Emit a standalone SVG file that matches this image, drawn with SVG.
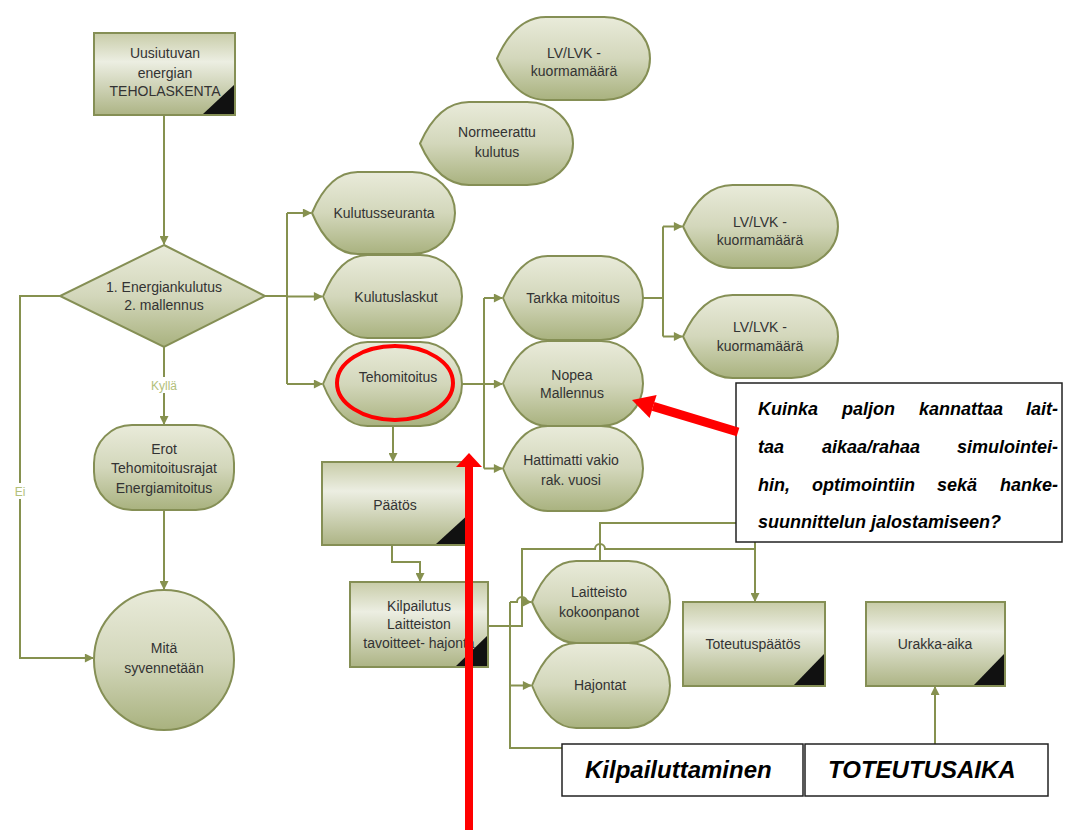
<svg xmlns="http://www.w3.org/2000/svg" width="1066" height="830" viewBox="0 0 1066 830">
<style>
.shape{fill:url(#gShape);stroke:#858f55;stroke-width:2}
.box{fill:url(#gBox);stroke:#858f55;stroke-width:2}
.tri{fill:#111}
.t{font-family:"Liberation Sans",Arial,sans-serif;font-size:14px;fill:#333;text-anchor:middle}
.lbl{font-family:"Liberation Sans",Arial,sans-serif;font-size:12px;fill:#b3c07a;text-anchor:middle}
.c{fill:none;stroke:#86914f;stroke-width:2}
.ca{fill:none;stroke:#86914f;stroke-width:2;marker-end:url(#ah)}
.q{font-family:"Liberation Sans",Arial,sans-serif;font-size:18px;font-weight:bold;font-style:italic;fill:#000}
.big{font-family:"Liberation Sans",Arial,sans-serif;font-size:24px;font-weight:bold;font-style:italic;fill:#000}
.frame{fill:#fff;stroke:#222;stroke-width:1.5}
.red{fill:#ff0000}
</style>
<defs>
<linearGradient id="gShape" x1="0" y1="0" x2="0" y2="1">
<stop offset="0" stop-color="#e9ebda"/>
<stop offset="0.5" stop-color="#d3d7bb"/>
<stop offset="1" stop-color="#a9b27f"/>
</linearGradient>
<linearGradient id="gBox" x1="0" y1="0" x2="0" y2="1">
<stop offset="0" stop-color="#c8cca8"/>
<stop offset="0.35" stop-color="#eceee2"/>
<stop offset="1" stop-color="#adb485"/>
</linearGradient>
<marker id="ah" viewBox="0 0 10 10" refX="9" refY="5" markerWidth="10" markerHeight="9" markerUnits="userSpaceOnUse" orient="auto">
<path d="M0,0 L10,5 L0,10 Z" fill="#86914f"/>
</marker>
</defs>
<rect width="1066" height="830" fill="#fff"/>

<g id="connectors">
<path class="ca" d="M164,115 V244"/>
<path class="ca" d="M164,347 V424"/>
<path class="ca" d="M164,510 V589"/>
<path class="ca" d="M60,296 H20 V658 H93"/>
<path class="c" d="M265,296 H287"/>
<path class="c" d="M287,213 V384"/>
<path class="ca" d="M287,213 H311"/>
<path class="ca" d="M287,296.5 H322"/>
<path class="ca" d="M287,384 H322"/>
<path class="ca" d="M462,384 H502"/>
<path class="c" d="M484,298 V468.5"/>
<path class="ca" d="M484,298 H502"/>
<path class="ca" d="M484,468.5 H502"/>
<path class="c" d="M643,298 H663"/>
<path class="c" d="M663,226.5 V336.5"/>
<path class="ca" d="M663,226.5 H682"/>
<path class="ca" d="M663,336.5 H682"/>
<path class="ca" d="M393,426 V461"/>
<path class="ca" d="M392,545 V562 H420 V581"/>
<path class="c" d="M488,626 H522 V549 H595 A5,5 0 0 1 605,549 H755"/>
<path class="c" d="M755,540 V549"/>
<path class="ca" d="M755,549 V601"/>
<path class="c" d="M562,748 H510 V602"/>
<path class="ca" d="M510,602 H517 A5,5 0 0 1 527,602 H531"/>
<path class="ca" d="M510,685.5 H531"/>
<path class="c" d="M600,561 V523 H740"/>
<path class="ca" d="M935,744 V687"/>
</g>

<g id="n-teholaskenta">
<rect class="box" x="94" y="33" width="141" height="82"/>
<polygon class="tri" points="203,114 234,114 234,85"/>
<text class="t" x="165" y="58">Uusiutuvan</text>
<text class="t" x="165" y="78">energian</text>
<text class="t" x="165" y="96">TEHOLASKENTA</text>
</g>

<g id="n-paatos-diamond">
<polygon class="shape" points="164,245 265,296 164,347 60,296"/>
<text class="t" x="164" y="292">1. Energiankulutus</text>
<text class="t" x="164" y="310">2. mallennus</text>
</g>

<g id="l-kylla">
<rect x="146" y="377" width="36" height="16" fill="#fff"/>
<text class="lbl" x="164" y="390">Kyllä</text>
</g>
<g id="l-ei">
<rect x="12" y="483" width="16" height="16" fill="#fff"/>
<text class="lbl" x="20" y="496">Ei</text>
</g>

<g id="n-erot">
<rect class="shape" x="94" y="425" width="140" height="85" rx="38" ry="38"/>
<text class="t" x="164" y="454">Erot</text>
<text class="t" x="164" y="473">Tehomitoitusrajat</text>
<text class="t" x="164" y="493">Energiamitoitus</text>
</g>

<g id="n-mita">
<circle class="shape" cx="164" cy="660" r="70"/>
<text class="t" x="164" y="653">Mitä</text>
<text class="t" x="164" y="673">syvennetään</text>
</g>

<g id="n-lv1">
<path class="shape" d="M497,58.5 Q515.4,17 546,17 L604.1,17 A45.9,41.5 0 0 1 604.1,100 L546,100 Q515.4,100 497,58.5 Z"/>
<text class="t" x="574" y="58">LV/LVK -</text>
<text class="t" x="574" y="76">kuormamäärä</text>
</g>

<g id="n-normeerattu">
<path class="shape" d="M420,143.5 Q438.4,102 469,102 L527.1,102 A45.9,41.5 0 0 1 527.1,185 L469,185 Q438.4,185 420,143.5 Z"/>
<text class="t" x="497" y="137">Normeerattu</text>
<text class="t" x="497" y="157">kulutus</text>
</g>

<g id="n-kulutusseuranta">
<path class="shape" d="M312,213 Q329.2,172 357.8,172 L412.1,172 A42.9,41 0 0 1 412.1,254 L357.8,254 Q329.2,254 312,213 Z"/>
<text class="t" x="384" y="218">Kulutusseuranta</text>
</g>

<g id="n-kulutuslaskut">
<path class="shape" d="M323,296.5 Q339.7,255 367.5,255 L420.3,255 A41.7,41.5 0 0 1 420.3,338 L367.5,338 Q339.7,338 323,296.5 Z"/>
<text class="t" x="396" y="302">Kulutuslaskut</text>
</g>

<g id="n-tehomitoitus">
<path class="shape" d="M323,384 Q339.7,342 367.5,342 L420.3,342 A41.7,42 0 0 1 420.3,426 L367.5,426 Q339.7,426 323,384 Z"/>
<text class="t" x="398" y="382">Tehomitoitus</text>
</g>

<g id="n-tarkka">
<path class="shape" d="M503,298 Q519.8,256 547.8,256 L601,256 A42,42 0 0 1 601,340 L547.8,340 Q519.8,340 503,298 Z"/>
<text class="t" x="573" y="303">Tarkka mitoitus</text>
</g>

<g id="n-nopea">
<path class="shape" d="M503,383.5 Q519.8,341 547.8,341 L601,341 A42,42.5 0 0 1 601,426 L547.8,426 Q519.8,426 503,383.5 Z"/>
<text class="t" x="572" y="380">Nopea</text>
<text class="t" x="572" y="398">Mallennus</text>
</g>

<g id="n-hattimatti">
<path class="shape" d="M503,468.5 Q519.8,426 547.8,426 L601,426 A42,42.5 0 0 1 601,511 L547.8,511 Q519.8,511 503,468.5 Z"/>
<text class="t" x="571" y="465">Hattimatti vakio</text>
<text class="t" x="571" y="485">rak. vuosi</text>
</g>

<g id="n-lv2">
<path class="shape" d="M683,226.5 Q701.6,185 732.6,185 L791.5,185 A46.5,41.5 0 0 1 791.5,268 L732.6,268 Q701.6,268 683,226.5 Z"/>
<text class="t" x="760" y="227">LV/LVK -</text>
<text class="t" x="760" y="245">kuormamäärä</text>
</g>

<g id="n-lv3">
<path class="shape" d="M683,336.5 Q701.6,295 732.6,295 L791.5,295 A46.5,41.5 0 0 1 791.5,378 L732.6,378 Q701.6,378 683,336.5 Z"/>
<text class="t" x="760" y="332">LV/LVK -</text>
<text class="t" x="760" y="351">kuormamäärä</text>
</g>

<g id="n-paatos">
<rect class="box" x="322" y="462" width="150" height="83"/>
<polygon class="tri" points="436,544 471,544 471,512"/>
<text class="t" x="395" y="510">Päätös</text>
</g>

<g id="n-kilpailutus">
<rect class="box" x="350" y="582" width="138" height="85"/>
<polygon class="tri" points="456,666 487,666 487,636"/>
<text class="t" x="419" y="611">Kilpailutus</text>
<text class="t" x="419" y="629">Laitteiston</text>
<text class="t" x="419" y="648">tavoitteet- hajonta</text>
</g>

<g id="n-laitteisto">
<path class="shape" d="M532,602 Q548.6,561 576.2,561 L628.6,561 A41.4,41 0 0 1 628.6,643 L576.2,643 Q548.6,643 532,602 Z"/>
<text class="t" x="599" y="597">Laitteisto</text>
<text class="t" x="599" y="617">kokoonpanot</text>
</g>

<g id="n-hajontat">
<path class="shape" d="M532,685.5 Q548.6,643 576.2,643 L628.6,643 A41.4,42.5 0 0 1 628.6,728 L576.2,728 Q548.6,728 532,685.5 Z"/>
<text class="t" x="600" y="690">Hajontat</text>
</g>

<g id="n-toteutuspaatos">
<rect class="box" x="683" y="602" width="142" height="84"/>
<polygon class="tri" points="794,685 824,685 824,654"/>
<text class="t" x="753" y="649">Toteutuspäätös</text>
</g>

<g id="n-urakka">
<rect class="box" x="866" y="602" width="139" height="84"/>
<polygon class="tri" points="974,685 1004,685 1004,654"/>
<text class="t" x="935" y="649">Urakka-aika</text>
</g>

<g id="n-callout">
<rect class="frame" x="736" y="383" width="326" height="159"/>
<text class="q" y="415"><tspan x="758">Kuinka</tspan><tspan x="842">paljon</tspan><tspan x="919">kannattaa</tspan></text>
<text class="q" x="1058" y="415" text-anchor="end">lait-</text>
<text class="q" y="453"><tspan x="758">taa</tspan><tspan x="822">aikaa/rahaa</tspan></text>
<text class="q" x="1058" y="453" text-anchor="end">simulointei-</text>
<text class="q" y="491"><tspan x="758">hin,</tspan><tspan x="812">optimointiin</tspan><tspan x="937">sekä</tspan></text>
<text class="q" x="1058" y="491" text-anchor="end">hanke-</text>
<text class="q" x="758" y="528">suunnittelun jalostamiseen?</text>
</g>

<g id="n-kilpailuttaminen">
<rect class="frame" x="562" y="744" width="241" height="52"/>
<text class="big" x="585" y="778">Kilpailuttaminen</text>
</g>

<g id="n-toteutusaika">
<rect class="frame" x="805" y="744" width="243" height="52"/>
<text class="big" x="828" y="778">TOTEUTUSAIKA</text>
</g>

<g id="annotations">
<ellipse cx="395" cy="383" rx="58" ry="37" fill="none" stroke="#ff0000" stroke-width="4"/>
<rect class="red" x="465" y="466" width="8" height="364"/>
<polygon class="red" points="456,467 482,467 469,453"/>
<polygon class="red" points="654.4,402.1 651.8,410.7 736.7,436.3 739.3,427.7"/>
<polygon class="red" points="632,400 656.6,394.9 649.6,417.9"/>
</g>
</svg>
